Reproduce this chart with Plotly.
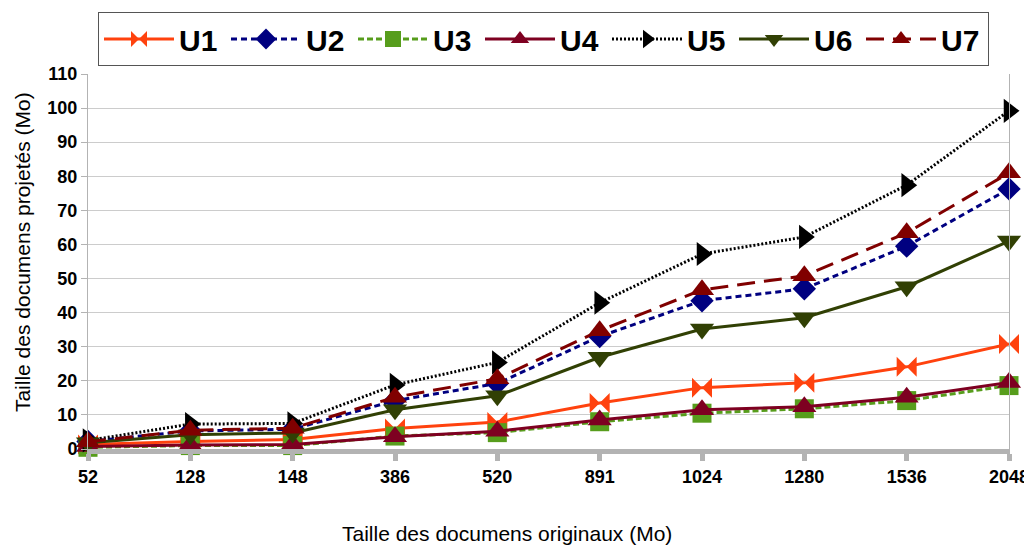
import plotly.graph_objects as go

categories = ["52", "128", "148", "386", "520", "891", "1024", "1280", "1536", "2048"]
U1 = [1.3, 2.2, 2.8, 6.0, 7.9, 13.5, 18.0, 19.4, 24.1, 30.8]
U2 = [2.2, 5.3, 5.8, 14.2, 19.2, 33.0, 43.5, 47.0, 59.5, 76.3]
U3 = [0.5, 1.0, 1.0, 3.8, 4.8, 8.0, 10.5, 11.8, 14.2, 18.6]
U4 = [0.7, 1.2, 1.3, 3.6, 5.2, 8.5, 11.5, 12.4, 15.2, 19.5]
U5 = [2.5, 7.3, 7.5, 18.8, 25.4, 42.9, 57.2, 62.2, 77.4, 99.2]
U6 = [1.8, 4.2, 4.7, 11.5, 15.6, 26.9, 35.2, 38.5, 47.6, 61.0]
U7 = [2.1, 5.5, 6.1, 15.2, 20.6, 34.7, 46.7, 50.8, 63.4, 81.0]
y_ticks = [0, 10, 20, 30, 40, 50, 60, 70, 80, 90, 100, 110]

series = [
    ("U1", U1, "#ff420e", "solid", "bowtie", 20),
    ("U2", U2, "#000080", "6px,4px", "diamond", 18),
    ("U3", U3, "#579d1c", "6px,3px", "square", 19),
    ("U4", U4, "#7e0021", "solid", "triangle-up", 21),
    ("U5", U5, "#000000", "2px,2px", "triangle-right", 21),
    ("U6", U6, "#314004", "solid", "triangle-down", 21),
    ("U7", U7, "#800000", "18px,9px", "triangle-up", 21),
]

W, H = 1024, 538  # page body has an 8px margin inside the 1032x546 window

fig = go.Figure()
for name, vals, color, dash, sym, size in series:
    fig.add_trace(go.Scatter(
        x=categories, y=vals, name=name, mode="lines+markers",
        line=dict(color=color, width=3, dash=dash),
        marker=dict(symbol=sym, size=size, color=color, line=dict(width=0)),
        cliponaxis=False,
    ))

fig.update_layout(
    width=W, height=H,
    margin=dict(l=80, r=23, t=66, b=97, autoexpand=False),
    plot_bgcolor="white", paper_bgcolor="white",
    font=dict(family="Liberation Sans, Arial, sans-serif", color="black"),
    showlegend=True,
    legend=dict(
        orientation="h", xref="container", yref="container",
        x=90 / W, xanchor="left", y=1 - 4 / H, yanchor="top",
        bordercolor="#555555", borderwidth=1, bgcolor="white",
        font=dict(size=30, weight="bold", family="Liberation Sans, Arial, sans-serif"),
        entrywidth=42, entrywidthmode="pixels",
        itemwidth=70,
    ),
    xaxis=dict(
        type="category", range=[0, 9],
        showgrid=False, showline=True, linecolor="#b3b3b3", linewidth=5,
        ticks="outside", ticklen=7, tickwidth=5, tickcolor="#b3b3b3",
        tickfont=dict(size=18, weight="bold"),
        zeroline=False,
    ),
    yaxis=dict(
        range=[0, 110], tickvals=y_ticks,
        showgrid=True, gridcolor="#cccccc", gridwidth=1,
        showline=True, linecolor="#b3b3b3", linewidth=1, mirror=True,
        ticks="outside", ticklen=6, tickcolor="#b3b3b3",
        tickfont=dict(size=18, weight="bold"),
        zeroline=False,
    ),
    annotations=[
        dict(text="Taille des documens originaux (Mo)", xref="paper", yref="paper",
             x=0.455, y=-0.224, xanchor="center", yanchor="middle", showarrow=False,
             font=dict(size=21)),
        dict(text="Taille des documens projetés (Mo)", xref="paper", yref="paper",
             x=-0.0717, y=0.525, xanchor="center", yanchor="middle", showarrow=False,
             textangle=-90, font=dict(size=21)),
    ],
)

fig.write_html("out.html")
